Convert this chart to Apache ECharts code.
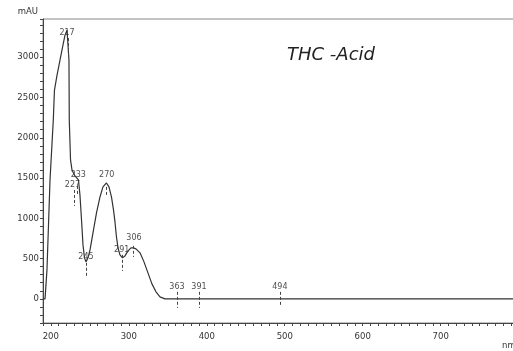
<!DOCTYPE html>
<html>
<head>
<meta charset="utf-8">
<script src="https://cdn.jsdelivr.net/npm/echarts@6/dist/echarts.min.js"></script>
<style>
html,body{margin:0;padding:0;background:#fff;}
#c{width:513px;height:351px;}
</style>
</head>
<body>
<div id="c"></div>
<script>
// Spectrum trace (wavelength nm, absorbance mAU)
var wavelengths = [190, 192.6, 193.2, 195.1, 199, 203.2, 204.7, 208, 211.8, 215.6, 218.2, 220.8, 222.7, 223.3, 223.7, 225.3, 227.2, 231, 235.5, 237.4, 239.4, 241.3, 243.2, 245.1, 247.7, 250.3, 254.1, 258.6, 263.1, 266.9, 271.4, 274.6, 277.8, 280.4, 282.3, 284.2, 286.2, 288.7, 291.9, 295.1, 299, 302.8, 306, 309.2, 314.4, 319.5, 324.6, 329.7, 334.9, 340, 346.4, 794];
var absorbance  = [0, 0, 0, 360, 1476, 2221, 2593, 2779, 2965, 3151, 3275, 3337, 3313, 2965, 2221, 1725, 1600, 1526, 1476, 1290, 980, 670, 509, 459, 509, 608, 819, 1067, 1266, 1390, 1439, 1390, 1266, 1104, 955, 769, 633, 546, 509, 533, 596, 633, 633, 620, 571, 459, 323, 186, 87, 25, 0, 0];

// Peak annotations
var peakNames   = ["217", "233", "227", "270", "245", "291", "306", "363", "391", "494"];
var peakLabelX  = [220.8, 235.3, 227.8, 271.7, 245.1, 290.9, 306.7, 361.8, 390, 493.8];
var peakLabelY  = [3300, 1538, 1414, 1538, 521, 608, 757, 149, 149, 149];
var peakTickX   = [222.7, 234.5, 229.7, 271.7, 245.1, 291.7, 305.8, 361.8, 390, 493.8];
var peakTickTop = [3238, 1402, 1352, 1390, 447, 546, 658, 87, 87, 87];
var peakTickBot = [3015, 1278, 1154, 1266, 261, 347, 521, -112, -112, -87];

// Axis settings
var xMin = 190, xMax = 794, xStep = 10, xLabelStep = 100;
var yMin = -300, yMax = 3475, yStep = 100, yLabelStep = 500;
var yAxisName = "mAU", xAxisName = "nm";
var titleText = "THC -Acid";

var chart = echarts.init(document.getElementById('c'), null, {renderer: 'canvas'});

var lineData = wavelengths.map(function (w, i) { return [w, absorbance[i]]; });
var labelData = peakNames.map(function (n, i) { return {value: [peakLabelX[i], peakLabelY[i]], name: n}; });
var tickLines = peakTickX.map(function (x, i) {
  return [{coord: [x, peakTickTop[i]]}, {coord: [x, peakTickBot[i]]}];
});

var axisColor = '#444';
var fontFam = 'DejaVu Sans';

chart.setOption({
  animation: false,
  backgroundColor: '#fff',
  grid: {left: 43, right: -1, top: 19, bottom: 28, containLabel: false, outerBoundsMode: 'none',
         show: true, borderColor: '#888', borderWidth: 1, backgroundColor: 'transparent'},
  title: {
    text: titleText, left: 287, top: 46, padding: 0,
    textStyle: {fontFamily: 'DejaVu Sans', fontStyle: 'italic', fontWeight: 'normal', fontSize: 18, color: '#222'}
  },
  xAxis: {
    type: 'value', min: xMin, max: xMax, interval: xStep,
    name: xAxisName, nameLocation: 'end', nameGap: -12,
    nameTextStyle: {fontFamily: fontFam, fontSize: 8.5, color: '#333', align: 'left', verticalAlign: 'top', padding: [18, 0, 0, 0]},
    axisLine: {show: true, onZero: false, lineStyle: {color: axisColor, width: 1}},
    axisTick: {show: true, length: 3, lineStyle: {color: axisColor}},
    axisLabel: {
      interval: 0, margin: 9, fontFamily: fontFam, fontSize: 8.5, color: '#333',
      formatter: function (v) { return (Math.round(v) % xLabelStep === 0) ? String(Math.round(v)) : ''; }
    },
    splitLine: {show: false}
  },
  yAxis: {
    type: 'value', min: yMin, max: yMax, interval: yStep,
    name: yAxisName, nameLocation: 'end', nameGap: 3,
    nameTextStyle: {fontFamily: fontFam, fontSize: 8.5, color: '#333', align: 'right', padding: [0, 5, 0, 0]},
    axisLine: {show: true, onZero: false, lineStyle: {color: axisColor, width: 1}},
    axisTick: {show: true, length: 3, lineStyle: {color: axisColor}},
    axisLabel: {
      margin: 4, fontFamily: fontFam, fontSize: 8.5, color: '#333',
      formatter: function (v) { return (v >= 0 && Math.round(v) % yLabelStep === 0) ? String(Math.round(v)) : ''; }
    },
    splitLine: {show: false}
  },
  series: [
    {
      type: 'line', data: lineData, showSymbol: false, smooth: false,
      lineStyle: {color: '#333', width: 1.2},
      markLine: {
        silent: true, symbol: ['none', 'none'], label: {show: false},
        lineStyle: {color: '#444', width: 1, type: [3, 2]},
        data: tickLines
      }
    },
    {
      type: 'scatter', data: labelData, symbolSize: 1,
      itemStyle: {color: 'rgba(0,0,0,0)'},
      label: {show: true, position: 'inside', formatter: '{b}', fontFamily: fontFam, fontSize: 8, color: '#222'}
    }
  ]
});
</script>
</body>
</html>
